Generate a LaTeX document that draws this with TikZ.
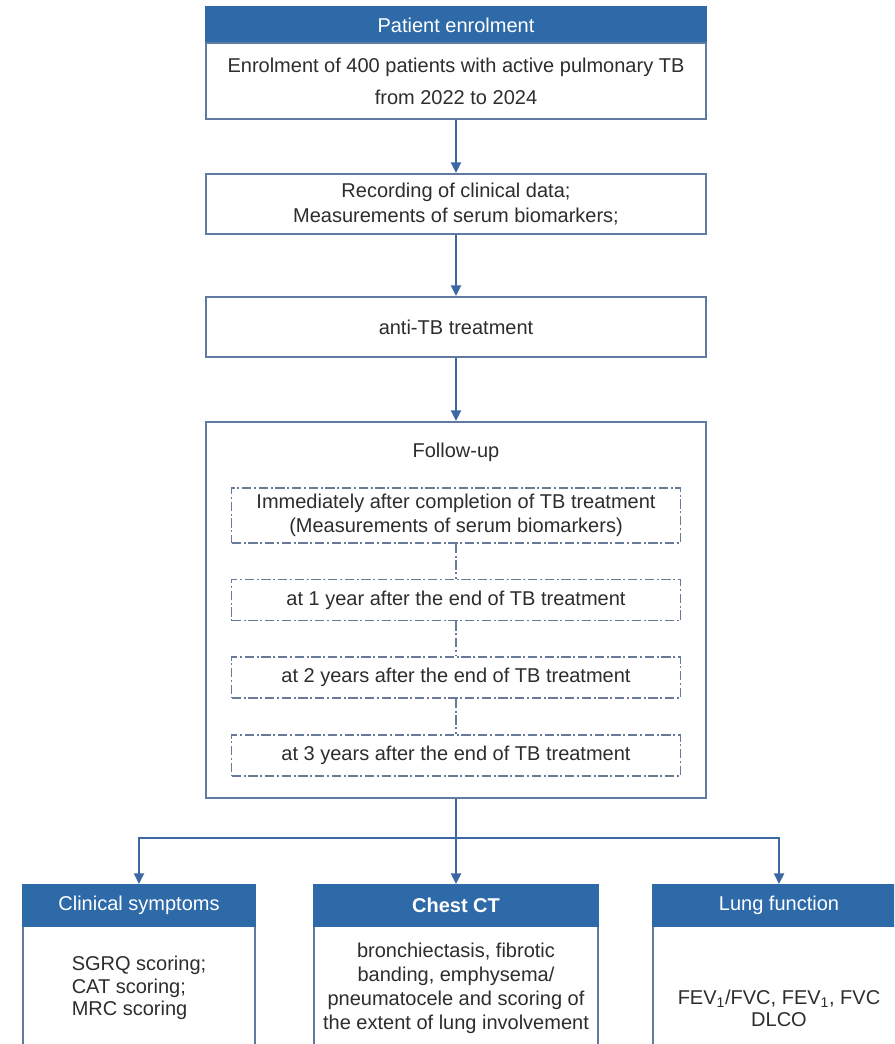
\documentclass[tikz,border=0pt]{standalone}
\usepackage{fontspec}
\setmainfont{Liberation Sans}
\usetikzlibrary{arrows.meta}

\definecolor{hdrblue}{RGB}{46,106,168}
\definecolor{lineblue}{RGB}{60,103,165}
\definecolor{boxedge}{RGB}{96,122,162}
\definecolor{dashgray}{RGB}{105,122,152}
\definecolor{txtgray}{RGB}{45,45,45}

\begin{document}
\begin{tikzpicture}[
    x=0.75pt, y=-0.75pt,
    font=\fontsize{15}{18}\selectfont,
    box/.style={
        rectangle,
        draw=boxedge,
        line width=1.4pt,
        fill=white,
        text=txtgray,
        align=center,
        inner sep=0pt
    },
    head/.style={
        rectangle,
        draw=hdrblue,
        fill=hdrblue,
        line width=1.4pt,
        text=white,
        inner sep=0pt
    },
    fubox/.style={
        rectangle,
        draw=dashgray,
        line width=1pt,
        dash pattern={on 7pt off 2pt on 1.5pt off 2pt},
        text=txtgray,
        align=center,
        inner sep=0pt,
        minimum width=336.75pt
    },
    arrow/.style={-{Triangle[length=8pt,width=7.5pt]}, line width=1.5pt, lineblue},
    line/.style={line width=1.5pt, lineblue},
    dline/.style={line width=1pt, dashgray, dash pattern={on 7pt off 2pt on 1.5pt off 2pt}}
]

\clip (0,0) rectangle (894,1044);
\fill[white] (0,0) rectangle (894,1044);

% main column
\node[head, minimum width=375pt, minimum height=27pt] (enrolHead) at (456,25) {Patient enrolment};
\node[box, minimum width=375pt, minimum height=57pt, font=\fontsize{15}{24}\selectfont] (enrol) at (456,81)
    {Enrolment of 400 patients with active pulmonary TB\\from 2022 to 2024};
\node[box, minimum width=375pt, minimum height=45pt, font=\fontsize{15}{19}\selectfont] (record) at (456,204)
    {Recording of clinical data;\\Measurements of serum biomarkers;};
\node[box, minimum width=375pt, minimum height=45pt] (treat) at (456,327) {anti-TB treatment};
\node[box, minimum width=375pt, minimum height=282pt] (followup) at (456,610) {};
\node[text=txtgray] (fuTitle) at (456,452) {Follow-up};

\node[fubox, minimum height=41.25pt, font=\fontsize{15}{18}\selectfont] (fu0) at (456,515.5)
    {Immediately after completion of TB treatment\\(Measurements of serum biomarkers)};
\node[fubox, minimum height=30.75pt] (fu1) at (456,600) {at 1 year after the end of TB treatment};
\node[fubox, minimum height=30.75pt] (fu2) at (456,677.5) {at 2 years after the end of TB treatment};
\node[fubox, minimum height=30.75pt] (fu3) at (456,755.5) {at 3 years after the end of TB treatment};

\draw[arrow] (enrol) -- (record);
\draw[arrow] (record) -- (treat);
\draw[arrow] (treat) -- (followup);
\draw[dline] (fu0) -- (fu1);
\draw[dline] (fu1) -- (fu2);
\draw[dline] (fu2) -- (fu3);

% outcome boxes
\node[box, minimum width=174pt, minimum height=93pt, align=left, font=\fontsize{15}{17}\selectfont] (sym) at (139,988)
    {SGRQ scoring;\\CAT scoring;\\MRC scoring};
\node[head, minimum width=174pt, minimum height=30.75pt] (symHead) at (139,905.5) {Clinical symptoms};
\node[box, minimum width=213pt, minimum height=93pt, font=\fontsize{15}{18}\selectfont] (ct) at (456,988)
    {bronchiectasis, fibrotic\\banding, emphysema/\\pneumatocele and scoring of\\the extent of lung involvement};
\node[head, minimum width=213pt, minimum height=30.75pt, font=\fontsize{15}{18}\selectfont\bfseries] (ctHead) at (456,905.5) {Chest CT};
\node[box, minimum width=189pt, minimum height=123pt, font=\fontsize{15}{16.5}\selectfont] (lung) at (779,1008)
    {FEV\textsubscript{1}/FVC, FEV\textsubscript{1}, FVC\\DLCO};
\node[head, minimum width=189pt, minimum height=30.75pt] (lungHead) at (779,905.5) {Lung function};

\coordinate (split) at (456,838);
\draw[line] (followup) -- (split);
\draw[arrow] (split) -| (symHead);
\draw[arrow] (split) -- (ctHead);
\draw[arrow] (split) -| (lungHead);

\end{tikzpicture}
\end{document}
